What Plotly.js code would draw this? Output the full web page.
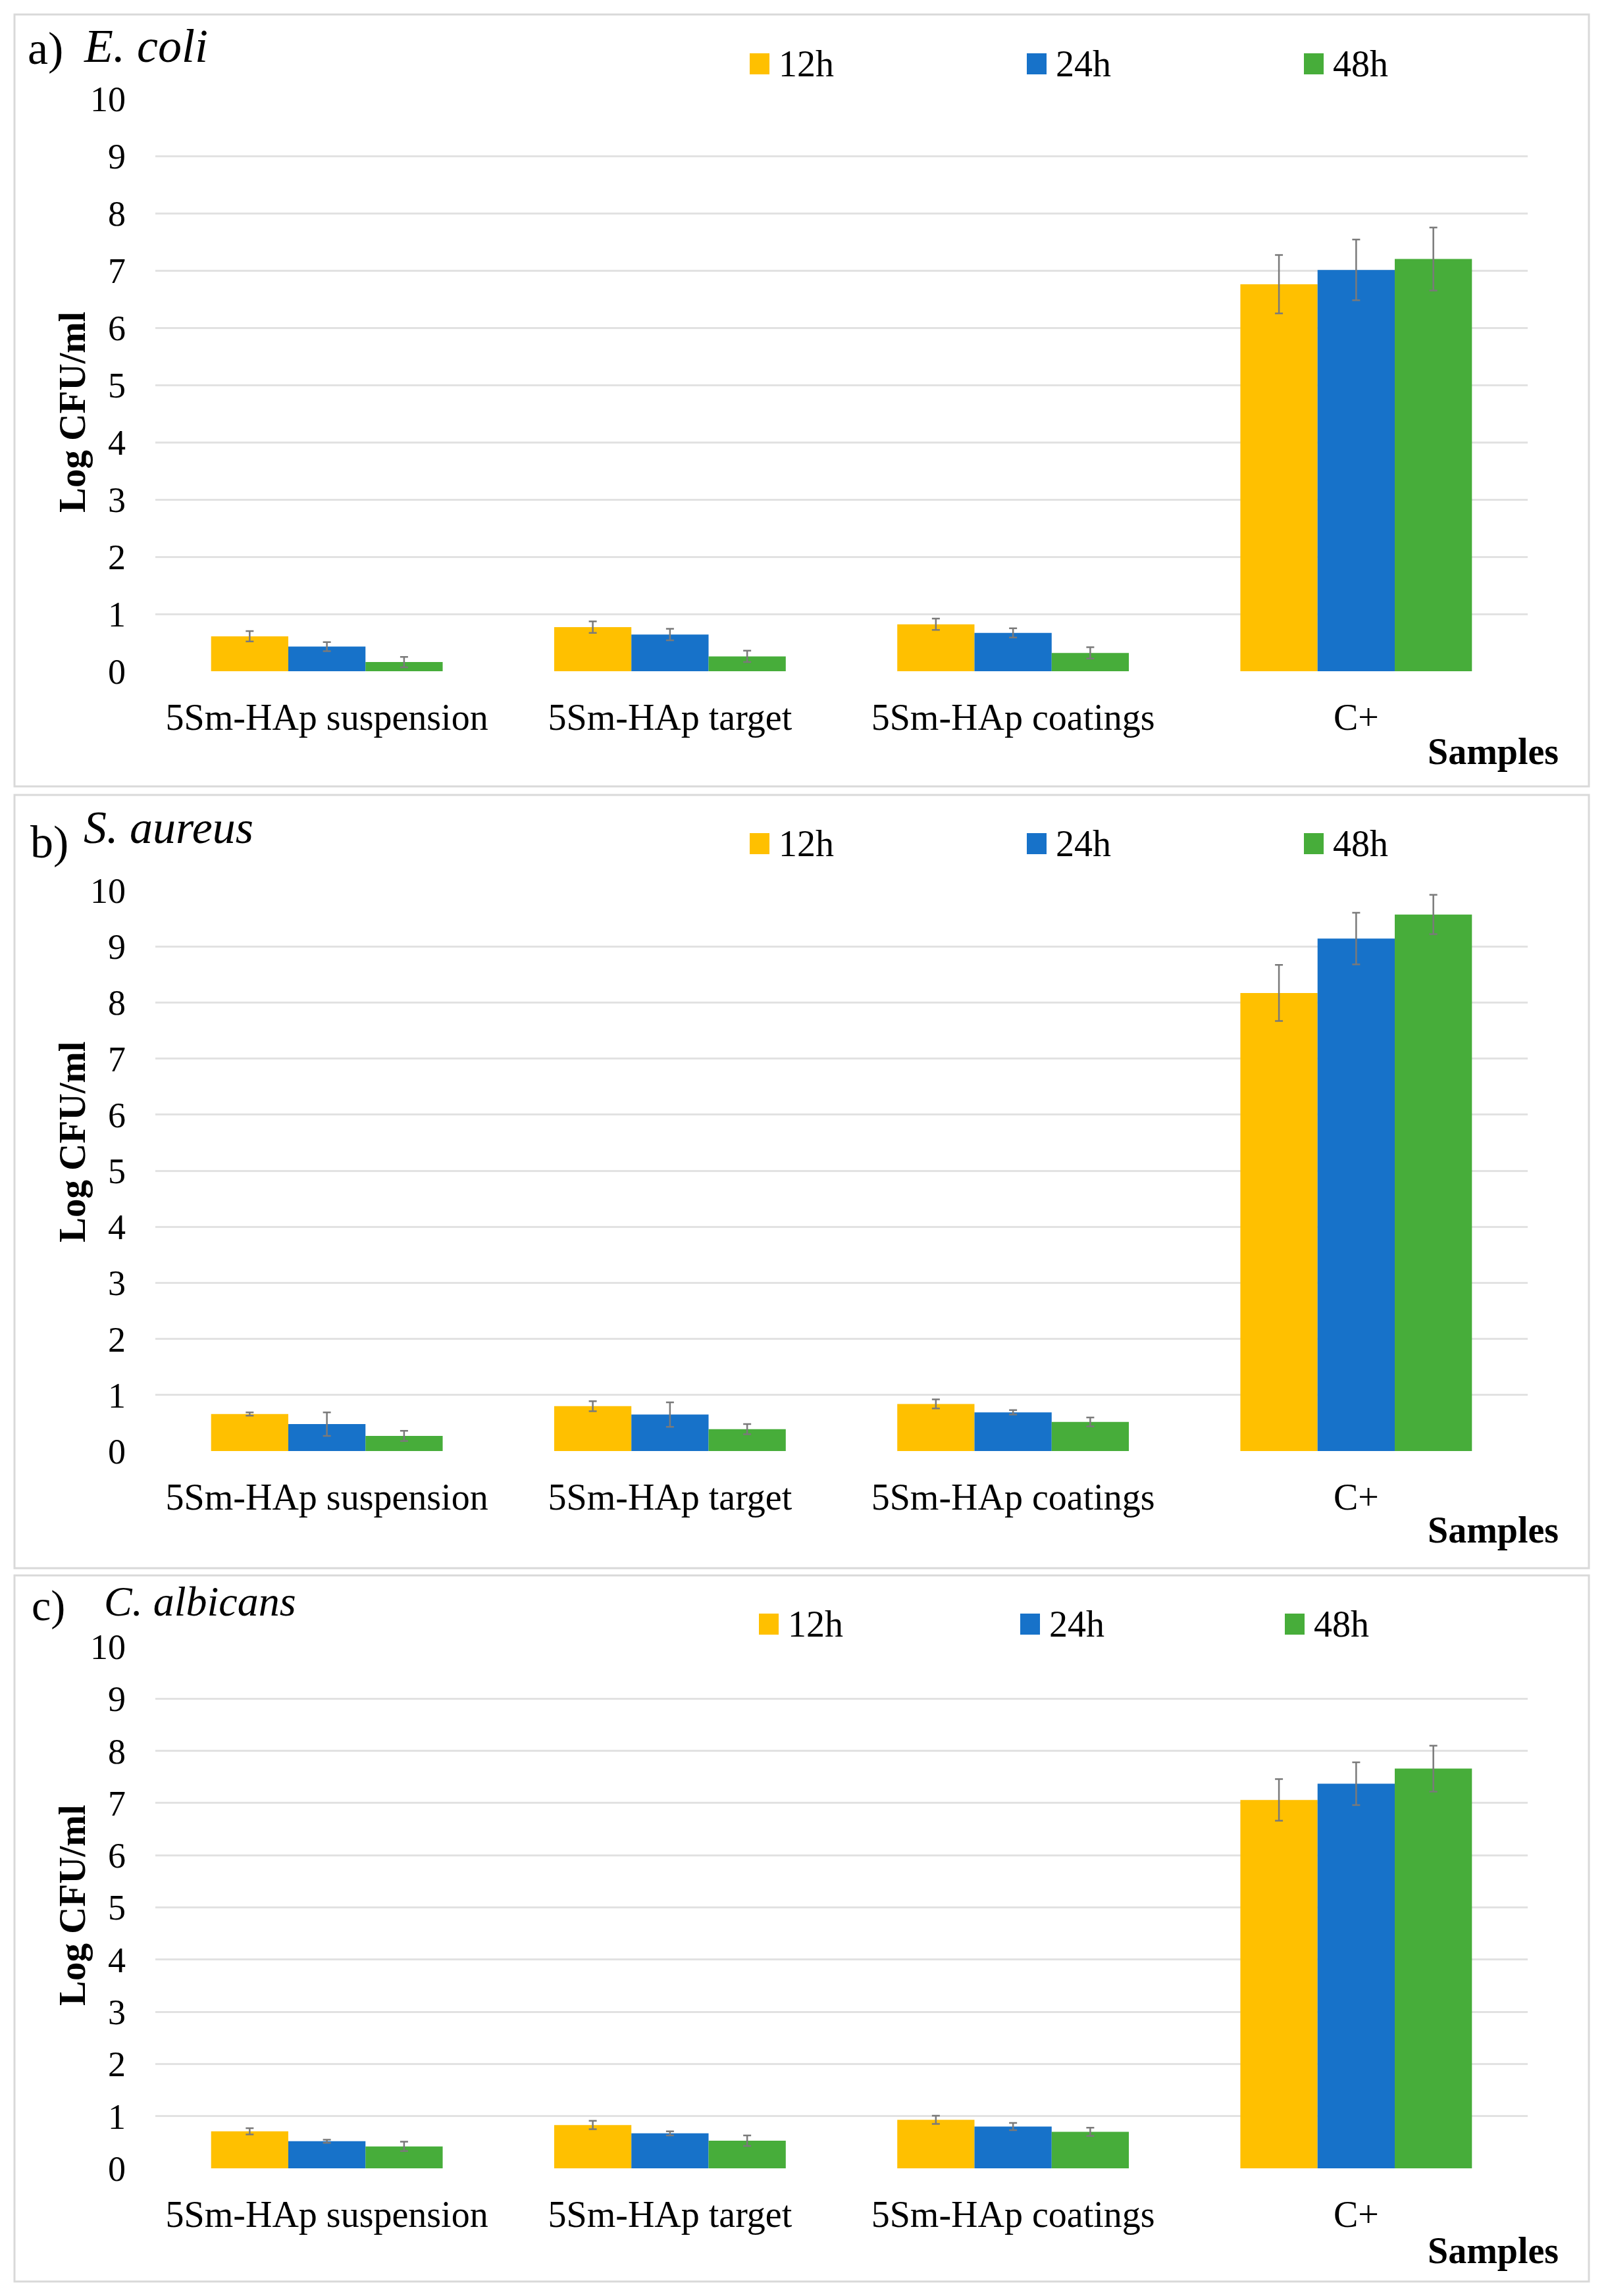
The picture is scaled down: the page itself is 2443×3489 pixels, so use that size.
<!DOCTYPE html>
<html>
<head>
<meta charset="utf-8">
<script src="https://cdn.plot.ly/plotly-3.0.1.min.js"></script>
<style>html,body{margin:0;padding:0;background:#fff;}</style>
</head>
<body>
<div id="chart" style="width:2443px;height:3489px;"></div>
<script>
// ---------- DATA ----------
const categories = ["5Sm-HAp suspension", "5Sm-HAp target", "5Sm-HAp coatings", "C+"];
const seriesNames = ["12h", "24h", "48h"];
const yTickVals = [0, 1, 2, 3, 4, 5, 6, 7, 8, 9, 10];
const panelLetters = ["a)", "b)", "c)"];
const organisms = ["E. coli", "S. aureus", "C. albicans"];

// a) E. coli
const ecoli_12h = [0.61, 0.77, 0.82, 6.76];
const ecoli_24h = [0.43, 0.64, 0.67, 7.01];
const ecoli_48h = [0.16, 0.26, 0.32, 7.20];
const ecoli_12h_err = [0.09, 0.10, 0.10, 0.51];
const ecoli_24h_err = [0.08, 0.10, 0.08, 0.53];
const ecoli_48h_err = [0.09, 0.10, 0.10, 0.55];

// b) S. aureus
const saureus_12h = [0.66, 0.80, 0.84, 8.17];
const saureus_24h = [0.48, 0.65, 0.69, 9.14];
const saureus_48h = [0.27, 0.39, 0.52, 9.57];
const saureus_12h_err = [0.03, 0.09, 0.08, 0.50];
const saureus_24h_err = [0.21, 0.22, 0.04, 0.46];
const saureus_48h_err = [0.09, 0.09, 0.08, 0.35];

// c) C. albicans
const calbicans_12h = [0.71, 0.83, 0.93, 7.06];
const calbicans_24h = [0.52, 0.67, 0.80, 7.37];
const calbicans_48h = [0.42, 0.53, 0.70, 7.66];
const calbicans_12h_err = [0.06, 0.08, 0.08, 0.40];
const calbicans_24h_err = [0.03, 0.04, 0.07, 0.41];
const calbicans_48h_err = [0.09, 0.10, 0.08, 0.44];

const colors = ["#FFC000", "#1772C9", "#47AD3A"];

// ---------- LAYOUT HELPERS ----------
const W = 2443, H = 3489;
const px = v => v / W;
const py = v => 1 - v / H;
const FONT = "Liberation Serif, 'Times New Roman', serif";

const panels = [
  { vals: [ecoli_12h, ecoli_24h, ecoli_48h], errs: [ecoli_12h_err, ecoli_24h_err, ecoli_48h_err],
    top: 150, bottom: 1020, box: [22, 1195], letter: [40, 73], letterSize: 70, org: [125, 70], orgSize: 72,
    legY: 97, legX: [1139, 1560, 1981], ytitleY: 626, samplesY: 1142 },
  { vals: [saureus_12h, saureus_24h, saureus_48h], errs: [saureus_12h_err, saureus_24h_err, saureus_48h_err],
    top: 1353, bottom: 2205, box: [1208, 2383], letter: [44, 1279], letterSize: 70, org: [125, 1257], orgSize: 70,
    legY: 1282, legX: [1139, 1560, 1981], ytitleY: 1735, samplesY: 2325 },
  { vals: [calbicans_12h, calbicans_24h, calbicans_48h], errs: [calbicans_12h_err, calbicans_24h_err, calbicans_48h_err],
    top: 2502, bottom: 3295, box: [2394, 3467], letter: [46, 2440], letterSize: 66, org: [156, 2433], orgSize: 64,
    legY: 2468, legX: [1153, 1550, 1952], ytitleY: 2895, samplesY: 3420 }
];

const xLeft = 236, xRight = 2321;
const traces = [];
const layout = {
  width: W, height: H,
  margin: { l: 0, r: 0, t: 0, b: 0 },
  paper_bgcolor: "#ffffff", plot_bgcolor: "#ffffff",
  barmode: "group", bargap: 0.325, bargroupgap: 0,
  showlegend: false,
  font: { family: FONT, color: "#000000" },
  shapes: [], annotations: []
};

panels.forEach((p, i) => {
  const n = i === 0 ? "" : String(i + 1);
  const xa = "xaxis" + n, ya = "yaxis" + n;
  const xr = "x" + n, yr = "y" + n;

  layout[xa] = {
    domain: [px(xLeft), px(xRight)], anchor: yr, type: "category",
    showgrid: false, showline: false, zeroline: false, ticks: "",
    ticklabelstandoff: 32,
    tickfont: { family: FONT, size: 56, color: "#000" },
    categoryorder: "array", categoryarray: categories
  };
  layout[ya] = {
    domain: [py(p.bottom), py(p.top)], anchor: xr,
    range: [0, 10], tickmode: "array", tickvals: yTickVals,
    showgrid: true, gridcolor: "#e2e2e2", gridwidth: 3,
    zeroline: false, showline: false, ticks: "",
    ticklabelstandoff: 44,
    tickfont: { family: FONT, size: 54, color: "#000" }
  };

  seriesNames.forEach((s, k) => {
    traces.push({
      type: "bar", name: s, x: categories, y: p.vals[k],
      xaxis: xr, yaxis: yr,
      marker: { color: colors[k], line: { width: 0 } },
      error_y: { type: "data", array: p.errs[k], visible: true, color: "#7a7a7a", thickness: 2.5, width: 6 }
    });
    // legend entry (manual, larger keys)
    const lx = p.legX[k];
    layout.shapes.push({
      type: "rect", xref: "paper", yref: "paper",
      x0: px(lx), x1: px(lx + 30), y0: py(p.legY + 16), y1: py(p.legY - 16),
      fillcolor: colors[k], line: { width: 0 }
    });
    layout.annotations.push({
      xref: "paper", yref: "paper", x: px(lx + 42), y: py(p.legY),
      xanchor: "left", yanchor: "middle", showarrow: false,
      text: s, font: { family: FONT, size: 56, color: "#000" }
    });
  });

  // panel border
  layout.shapes.push({
    type: "rect", xref: "paper", yref: "paper",
    x0: px(22), x1: px(2414), y0: py(p.box[1]), y1: py(p.box[0]),
    line: { color: "#d9d9d9", width: 3 }, fillcolor: "rgba(0,0,0,0)", layer: "below"
  });

  // panel letter + organism name
  layout.annotations.push({
    xref: "paper", yref: "paper", x: px(p.letter[0]), y: py(p.letter[1]),
    xanchor: "left", yanchor: "middle", showarrow: false,
    text: panelLetters[i], font: { family: FONT, size: p.letterSize, color: "#000" }
  });
  layout.annotations.push({
    xref: "paper", yref: "paper", x: px(p.org[0]), y: py(p.org[1]),
    xanchor: "left", yanchor: "middle", showarrow: false,
    text: "<i>" + organisms[i] + "</i>", font: { family: FONT, size: p.orgSize, color: "#000" }
  });

  // y-axis title
  layout.annotations.push({
    xref: "paper", yref: "paper", x: px(109), y: py(p.ytitleY),
    xanchor: "center", yanchor: "middle", showarrow: false, textangle: -90,
    text: "<b>Log CFU/ml</b>", font: { family: FONT, size: 57, color: "#000" }
  });

  // x-axis title
  layout.annotations.push({
    xref: "paper", yref: "paper", x: px(2370), y: py(p.samplesY),
    xanchor: "right", yanchor: "middle", showarrow: false,
    text: "<b>Samples</b>", font: { family: FONT, size: 56, color: "#000" }
  });
});

Plotly.newPlot("chart", traces, layout, { staticPlot: true, displayModeBar: false });
</script>
</body>
</html>
